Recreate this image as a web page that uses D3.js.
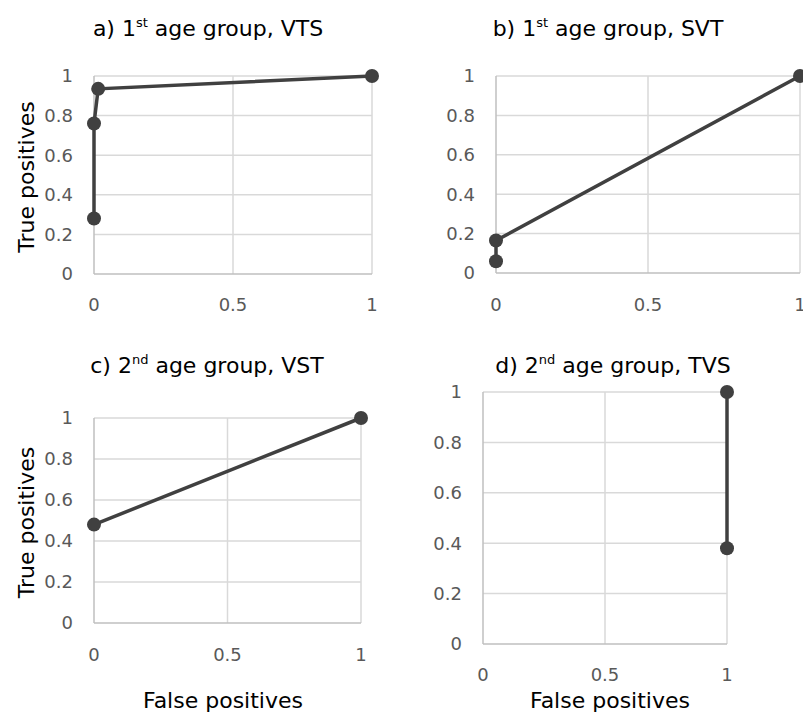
<!DOCTYPE html>
<html>
<head>
<meta charset="utf-8">
<script src="https://cdnjs.cloudflare.com/ajax/libs/d3/7.8.5/d3.min.js"></script>
<style>
body{margin:0;background:#fff;}
text{font-family:"DejaVu Sans",sans-serif;}
</style>
</head>
<body>
<script>
// values
const ticksX=[0,0.5,1];
const ticksY=[0,0.2,0.4,0.6,0.8,1];

const fpA=[0,0,0.015,1];
const tpA=[0.28,0.76,0.935,1];
const fpB=[0,0,1];
const tpB=[0.06,0.165,1];
const fpC=[0,1];
const tpC=[0.48,1];
const fpD=[1,1];
const tpD=[0.38,1];

const titles=[
  ["a) 1","st"," age group, VTS"],
  ["b) 1","st"," age group, SVT"],
  ["c) 2","nd"," age group, VST"],
  ["d) 2","nd"," age group, TVS"]
];

const w=803,h=713;
const svg=d3.select("body").append("svg").attr("width",w).attr("height",h);

// placement of each panel
const panels=[
  {fp:fpA,tp:tpA,title:titles[0],x0:94,x1:372,y0:274,y1:76,tx:208,ty:36,xlab:311,ytitle:true,xtitle:false},
  {fp:fpB,tp:tpB,title:titles[1],x0:496,x1:800,y0:273,y1:76,tx:608,ty:36,xlab:311,ytitle:false,xtitle:false},
  {fp:fpC,tp:tpC,title:titles[2],x0:94,x1:361,y0:623,y1:418,tx:207,ty:373,xlab:661,ytitle:true,xtitle:true,xtx:223},
  {fp:fpD,tp:tpD,title:titles[3],x0:483,x1:727,y0:644,y1:392,tx:613,ty:373,xlab:681,ytitle:false,xtitle:true,xtx:610}
];

panels.forEach(function(p){
  const xScale=d3.scaleLinear().domain([0,1]).range([p.x0,p.x1]);
  const yScale=d3.scaleLinear().domain([0,1]).range([p.y0,p.y1]);
  const g=svg.append("g");

  // grid
  g.selectAll(".hg").data(ticksY.slice(1)).enter().append("line")
    .attr("x1",p.x0).attr("x2",p.x1)
    .attr("y1",d=>yScale(d)).attr("y2",d=>yScale(d))
    .attr("stroke","#d9d9d9").attr("stroke-width",1.5);
  g.selectAll(".vg").data(ticksX.slice(1)).enter().append("line")
    .attr("y1",p.y0).attr("y2",p.y1)
    .attr("x1",d=>xScale(d)).attr("x2",d=>xScale(d))
    .attr("stroke","#d9d9d9").attr("stroke-width",1.5);
  // axis lines
  g.append("line").attr("x1",p.x0).attr("x2",p.x1).attr("y1",p.y0).attr("y2",p.y0)
    .attr("stroke","#bfbfbf").attr("stroke-width",1.5);
  g.append("line").attr("x1",p.x0).attr("x2",p.x0).attr("y1",p.y0).attr("y2",p.y1)
    .attr("stroke","#bfbfbf").attr("stroke-width",1.5);

  // tick labels
  g.selectAll(".yt").data(ticksY).enter().append("text")
    .attr("x",p.x0-21).attr("y",d=>yScale(d)).attr("dy","0.36em")
    .attr("text-anchor","end").attr("font-size",18).attr("fill","#595959")
    .text(d=>d);
  g.selectAll(".xt").data(ticksX).enter().append("text")
    .attr("x",d=>xScale(d)).attr("y",p.xlab)
    .attr("text-anchor","middle").attr("font-size",18).attr("fill","#595959")
    .text(d=>d);

  // title
  const t=g.append("text").attr("x",p.tx).attr("y",p.ty)
    .attr("text-anchor","middle").attr("font-size",22).attr("fill","#000");
  t.append("tspan").text(p.title[0]);
  t.append("tspan").attr("font-size",13).attr("dy",-9).text(p.title[1]);
  t.append("tspan").attr("dy",9).text(p.title[2]);

  if(p.ytitle){
    g.append("text")
      .attr("transform","translate(34,"+((p.y0+p.y1)/2+2)+") rotate(-90)")
      .attr("text-anchor","middle").attr("font-size",22).attr("fill","#000")
      .text("True positives");
  }
  if(p.xtitle){
    g.append("text").attr("x",p.xtx).attr("y",708)
      .attr("text-anchor","middle").attr("font-size",22).attr("fill","#000")
      .text("False positives");
  }

  // curve
  const pts=p.fp.map((d,i)=>[d,p.tp[i]]);
  g.append("path").datum(pts)
    .attr("d",d3.line().x(d=>xScale(d[0])).y(d=>yScale(d[1])))
    .attr("fill","none").attr("stroke","#404040").attr("stroke-width",3.5);
  g.selectAll("circle").data(pts).enter().append("circle")
    .attr("cx",d=>xScale(d[0])).attr("cy",d=>yScale(d[1])).attr("r",7)
    .attr("fill","#404040");
});
</script>
</body>
</html>
